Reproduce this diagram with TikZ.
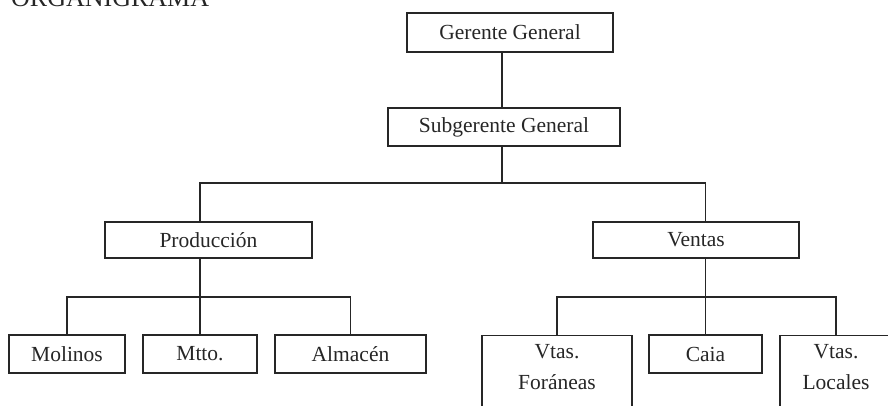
\documentclass[tikz,border=0pt]{standalone}
\usepackage{fontspec}
\setmainfont{Liberation Serif}
\begin{document}
\begin{tikzpicture}[x=1pt,y=-1pt,
  box/.style={draw=black!85, line width=1.2pt, rectangle, inner sep=0pt,
    font=\fontsize{21.5}{26}\selectfont, text=black!85},
  conn/.style={draw=black!85, line width=1.2pt},
  lbl/.style={font=\fontsize{21.5}{31}\selectfont, align=center, text=black!85, inner sep=0pt}]
\useasboundingbox (0,0) rectangle (888,406);
\node[anchor=base west, font=\fontsize{26}{30}\selectfont, text=black!85, inner sep=0pt] (title) at (11,7) {ORGANIGRAMA};
% boxes
\node[box, minimum width=206pt, minimum height=39pt] (ger) at (510,32.5) {Gerente General};
\node[box, minimum width=232pt, minimum height=38pt] (sub) at (504,127) {Subgerente General};
\node[box, minimum width=207pt, minimum height=36pt] (prod) at (208.5,240) {Producción};
\node[box, minimum width=206pt, minimum height=36pt] (vent) at (696,240) {Ventas};
\node[box, minimum width=116pt, minimum height=38pt] (mol) at (67,354) {Molinos};
\node[box, minimum width=114pt, minimum height=38pt] (mtto) at (200,354) {Mtto.};
\node[box, minimum width=151pt, minimum height=38pt] (alm) at (350.5,354) {Almacén};
\node[box, minimum width=113pt, minimum height=38pt] (caja) at (705.5,354) {Caia};
\node[box, anchor=north, minimum width=150pt, minimum height=90pt,
  label={[lbl, anchor=north, label distance=-9pt]north:Vtas.\\Foráneas}] (fora) at (557,335) {};
\node[box, anchor=north, minimum width=112pt, minimum height=90pt,
  label={[lbl, anchor=north, label distance=-9pt]north:Vtas.\\Locales}] (loc) at (836,335) {};
% connectors
\coordinate (t) at (502,183);
\coordinate (lb) at (0,297);
\draw[conn] (ger.south -| t) -- (sub.north -| t);
\draw[conn] (sub.south -| t) -- (t);
\draw[conn] (prod.north -| mtto.north) -- (mtto.north |- t) -- (caja.north |- t) -- (vent.north -| caja.north);
\draw[conn] (prod.south -| mtto.north) -- (mtto.north);
\draw[conn] (mol.north) -- (mol.north |- lb) -- (alm.north |- lb) -- (alm.north);
\draw[conn] (vent.south -| caja.north) -- (caja.north);
\draw[conn] (fora.north) -- (fora.north |- lb) -- (loc.north |- lb) -- (loc.north);
\end{tikzpicture}
\end{document}
